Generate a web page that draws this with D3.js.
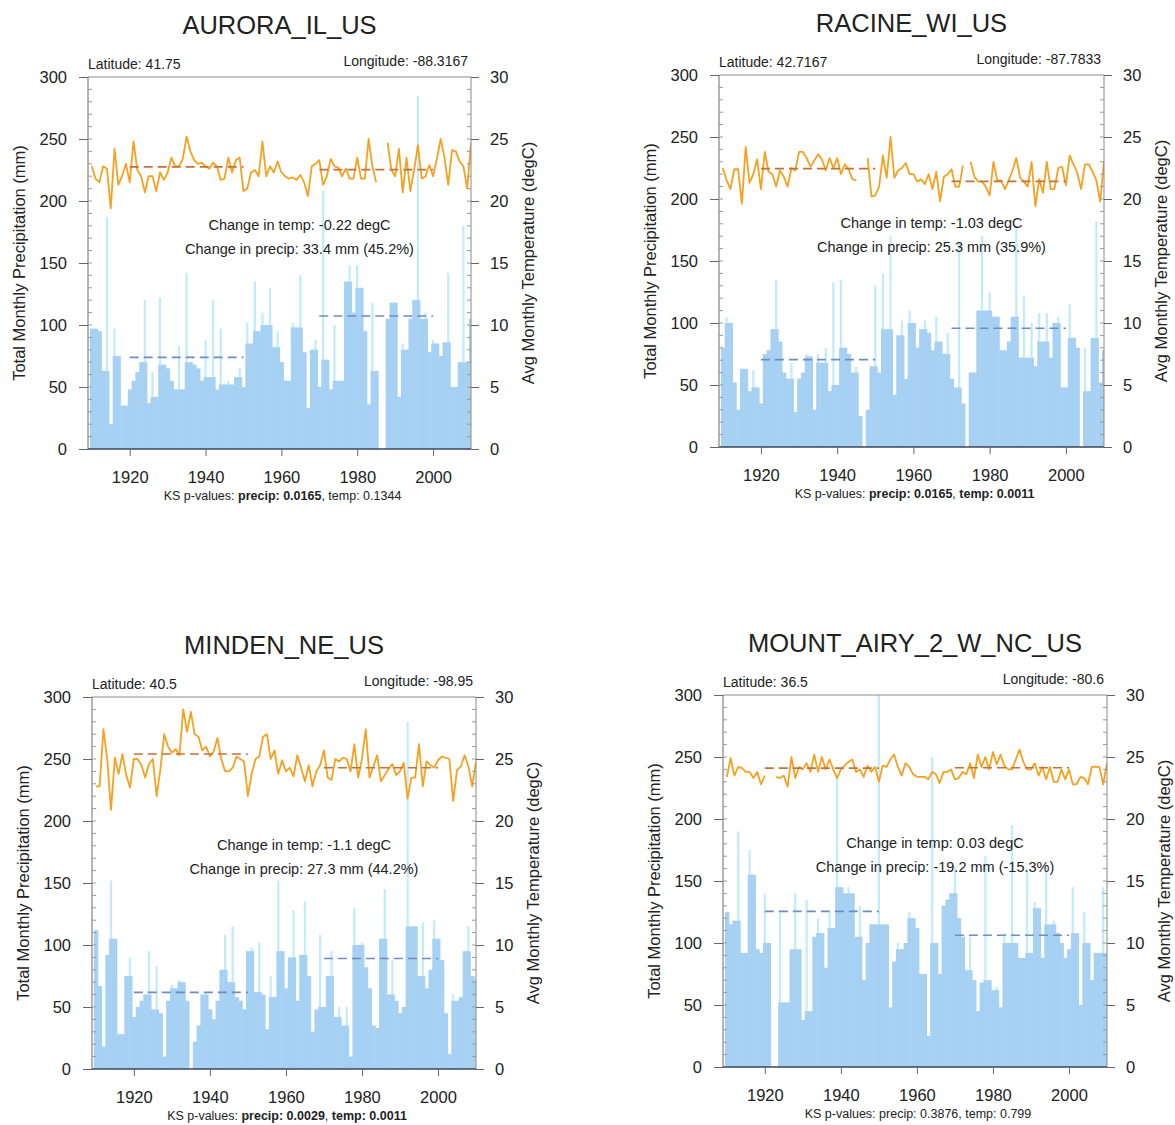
<!DOCTYPE html>
<html><head><meta charset="utf-8">
<script src="https://cdn.jsdelivr.net/npm/d3@7"></script>
<style>
body{margin:0;background:#fff}
text{font-family:"Liberation Sans",Arial,Helvetica,sans-serif}
</style>
</head><body>
<svg id="c" width="1175" height="1125"></svg>
<script>
// ---------------- DATA ----------------
const years = d3.range(1910, 2011);
const stations = ["AURORA_IL_US", "RACINE_WI_US", "MINDEN_NE_US", "MOUNT_AIRY_2_W_NC_US"];
const latitudes = ["41.75", "42.7167", "40.5", "36.5"];
const longitudes = ["-88.3167", "-87.7833", "-98.95", "-80.6"];
const precipTicks = [0, 50, 100, 150, 200, 250, 300];
const tempTicks = [0, 5, 10, 15, 20, 25, 30];
const yearTicks = [1920, 1940, 1960, 1980, 2000];
const periods = [[1920, 1950], [1970, 2000]];

const precipAurora = [97,97,95,63,187,20,97,75,35,35,
  48,55,62,70,120,37,62,42,122,68,
  65,55,48,83,48,142,70,68,65,55,
  88,58,120,48,97,52,55,52,58,65,
  50,102,85,135,95,110,100,130,82,95,
  70,55,55,102,98,140,78,33,80,88,
  50,208,72,48,100,55,55,135,148,110,
  148,130,95,36,118,63,0,0,105,118,
  118,42,85,80,105,120,285,105,110,78,
  88,85,75,86,142,50,50,70,180,70,
  105];
const tempAurora = [22.8,21.8,21.5,22.8,22.6,19.4,24.2,21.3,22.0,23.0,
  21.5,24.8,22.5,22.0,20.7,22.0,22.0,20.8,22.3,21.7,
  22.3,23.5,22.8,22.8,23.4,25.2,24.0,23.3,23.0,23.1,
  22.8,22.6,23.1,22.8,21.7,21.8,23.5,22.3,23.3,23.5,
  20.8,21.0,22.3,22.5,22.0,24.8,22.0,22.8,22.3,23.2,
  22.3,22.0,21.8,21.9,21.7,22.1,21.5,20.4,22.8,23.0,
  23.3,21.3,22.0,23.4,22.8,22.7,22.0,22.6,21.8,21.8,
  23.5,21.8,21.8,25.0,22.8,21.5,null,null,24.7,22.5,
  22.0,24.2,20.7,23.5,20.8,22.5,24.5,21.8,22.0,22.9,
  22.0,23.4,25.0,23.5,21.3,24.1,24.0,23.2,22.8,21.0,
  24.7];

const precipRacine = [80,105,100,52,30,63,63,45,62,48,
  35,75,78,95,135,85,60,55,68,28,
  55,60,75,73,30,75,68,80,45,133,
  50,135,80,75,60,65,25,0,30,65,
  130,60,140,95,170,42,90,102,55,110,
  100,80,95,102,92,78,105,85,75,92,
  55,48,165,35,0,60,60,110,170,110,
  125,105,105,78,78,85,105,178,72,122,
  72,100,65,108,85,108,72,100,105,48,
  48,115,88,80,0,80,45,88,182,52,
  78];
const tempRacine = [22.5,21.5,20.8,22.4,22.4,19.6,24.2,21.3,22.0,23.2,
  20.8,23.8,22.2,22.0,21.0,22.3,21.8,21.0,22.5,22.3,
  23.8,23.8,23.3,22.6,23.1,23.6,23.2,22.3,23.3,22.5,
  23.3,22.0,22.8,22.4,21.6,21.5,null,null,23.3,20.2,
  20.3,21.0,23.5,21.7,25.0,21.7,22.3,22.5,22.9,22.0,
  22.0,21.4,21.6,21.2,22.0,20.8,22.2,19.8,21.8,22.0,
  22.4,21.0,21.0,22.7,null,23.0,21.8,21.4,21.4,21.0,
  20.3,23.0,21.5,21.5,20.8,21.5,22.3,23.3,21.7,21.4,
  21.0,23.0,19.4,21.6,20.5,23.0,20.8,20.8,22.5,22.6,
  21.1,23.5,22.8,22.1,20.8,22.8,22.8,22.2,21.5,19.8,
  23.0];

const precipMinden = [112,67,18,92,152,105,28,28,75,90,
  42,50,55,60,95,48,83,45,10,55,
  68,65,72,70,55,0,22,35,60,62,
  48,40,55,80,108,70,115,58,55,48,
  95,98,62,102,60,32,75,58,152,95,
  65,90,128,55,92,135,75,30,48,108,
  50,75,95,42,50,35,50,10,130,100,
  102,82,65,35,33,105,145,60,88,55,
  45,50,280,115,115,75,118,65,80,120,
  105,88,45,12,60,55,58,95,115,75,
  72];
const tempMinden = [22.8,22.8,27.4,25.0,20.9,25.1,23.8,25.4,23.7,22.7,
  25.0,25.0,24.5,23.5,24.6,25.0,22.0,24.2,27.0,26.0,
  25.5,25.8,25.3,29.0,27.2,28.8,27.0,26.8,25.7,26.0,
  25.2,25.6,26.7,25.0,24.0,24.0,24.3,25.2,25.0,24.8,
  22.0,23.8,25.0,25.2,26.8,27.0,25.0,25.7,23.8,24.9,
  24.0,24.3,23.6,25.3,24.3,23.2,24.5,22.8,24.0,24.5,
  25.7,23.5,23.3,25.0,24.8,25.1,25.0,24.0,26.2,23.5,
  25.0,27.4,23.5,24.4,25.3,23.2,23.7,24.2,24.6,23.7,
  24.0,24.7,21.8,23.5,23.5,26.2,22.8,24.8,24.5,24.3,
  24.9,25.2,25.1,25.0,21.6,24.1,24.4,25.3,24.4,22.8,
  24.8];

const precipMountAiry = [125,115,118,190,92,92,175,155,95,92,
  140,100,0,0,125,52,52,95,140,95,
  38,135,45,105,120,108,80,125,112,235,
  145,140,145,140,105,130,70,100,115,115,
  300,115,115,48,85,100,95,100,125,120,
  112,75,75,25,250,100,75,130,135,140,
  160,120,105,78,105,70,45,68,170,70,
  62,65,48,108,100,195,100,88,88,160,
  92,133,128,88,160,115,118,108,100,88,
  95,145,108,50,125,100,70,92,92,145,
  92];
const tempMountAiry = [23.4,24.9,23.5,24.2,24.1,23.8,23.8,23.3,23.8,22.8,
  23.5,null,null,23.4,23.3,23.5,22.6,25.0,23.3,24.2,
  24.0,24.5,23.8,25.2,23.8,25.0,24.0,24.8,24.0,23.3,
  24.0,24.3,24.6,24.8,23.8,24.0,23.4,24.3,23.8,24.2,
  23.0,24.3,24.2,24.8,25.2,24.2,23.5,24.5,24.2,23.6,
  23.4,23.4,23.4,23.2,23.8,23.6,22.9,23.8,23.8,24.0,
  23.2,23.3,23.8,23.6,24.5,23.3,25.2,24.2,25.0,24.0,
  25.4,24.4,25.2,24.3,24.0,24.0,24.8,25.6,24.6,24.0,
  24.0,24.5,23.5,24.2,23.2,24.2,23.0,23.0,24.0,23.2,
  24.0,22.8,22.8,23.4,23.3,22.8,24.2,24.2,24.2,22.8,
  24.5];

const precipSeries = [precipAurora, precipRacine, precipMinden, precipMountAiry];
const tempSeries = [tempAurora, tempRacine, tempMinden, tempMountAiry];
const precipMeans = [[73.9, 107.3], [70.5, 95.8], [61.8, 89.1], [125.5, 106.3]];
const tempMeans = [[22.75, 22.53], [22.45, 21.42], [25.4, 24.3], [24.10, 24.13]];
const changeTempText = ["-0.22", "-1.03", "-1.1", "0.03"];
const changePrecipText = ["33.4 mm (45.2%)", "25.3 mm (35.9%)", "27.3 mm (44.2%)", "-19.2 mm (-15.3%)"];
const ksPrecip = ["0.0165", "0.0165", "0.0029", "0.3876"];
const ksTemp = ["0.1344", "0.0011", "0.0011", "0.799"];

// ---------------- DRAW ----------------
const svg = d3.select("#c");
const layout = [
  {left: 88, top: 77, w: 383, h: 372},
  {left: 719, top: 75, w: 385, h: 372},
  {left: 92, top: 697, w: 384, h: 372},
  {left: 723, top: 695, w: 384, h: 372}
];

stations.forEach((name, i) => {
  const L = layout[i];
  const P = precipSeries[i], T = tempSeries[i];
  const g = svg.append("g").attr("transform", `translate(${L.left},${L.top})`);
  const x = d3.scaleLinear().domain([1909, 2010]).range([0, L.w]);
  const yP = d3.scaleLinear().domain([0, 300]).range([L.h, 0]);
  const yT = d3.scaleLinear().domain([0, 30]).range([L.h, 0]);
  const bw = x(1910) - x(1909);

  g.append("clipPath").attr("id", "clip" + i).append("rect")
    .attr("x", 0).attr("y", 0).attr("width", L.w).attr("height", L.h);
  const plot = g.append("g").attr("clip-path", `url(#clip${i})`);

  // thin light spikes (full value)
  plot.append("g").selectAll("rect").data(years).join("rect")
    .attr("x", d => x(d) - bw * 0.3).attr("width", bw * 0.6)
    .attr("y", (d, k) => yP(P[k])).attr("height", (d, k) => yP(0) - yP(P[k]))
    .attr("fill", "#c3ecfa");
  // body of bars (capped at taller neighbour)
  const bodyVal = k => Math.min(P[k], Math.max(k > 0 ? P[k - 1] : P[k], k < P.length - 1 ? P[k + 1] : P[k]));
  plot.append("g").selectAll("rect").data(years).join("rect")
    .attr("x", d => x(d - 0.5)).attr("width", bw + 0.6)
    .attr("y", (d, k) => yP(bodyVal(k))).attr("height", (d, k) => yP(0) - yP(bodyVal(k)))
    .attr("fill", "#a7d1f2");

  // temperature line
  const line = d3.line().defined(d => d[1] != null).x(d => x(d[0])).y(d => yT(d[1]));
  plot.append("path").datum(years.map((yr, k) => [yr, T[k]]))
    .attr("d", line).attr("fill", "none").attr("stroke", "#f6a11f")
    .attr("stroke-width", 1.8).attr("stroke-linejoin", "round");

  // period means
  periods.forEach((p, j) => {
    plot.append("line").attr("x1", x(p[0])).attr("x2", x(p[1]))
      .attr("y1", yP(precipMeans[i][j])).attr("y2", yP(precipMeans[i][j]))
      .attr("stroke", "#6f8cc2").attr("stroke-width", 1.6).attr("stroke-dasharray", "9,5");
    plot.append("line").attr("x1", x(p[0])).attr("x2", x(p[1]))
      .attr("y1", yT(tempMeans[i][j])).attr("y2", yT(tempMeans[i][j]))
      .attr("stroke", "#c4703a").attr("stroke-width", 1.6).attr("stroke-dasharray", "9,5");
  });

  // frame lines
  g.append("line").attr("x1", 0).attr("x2", L.w).attr("y1", 0).attr("y2", 0).attr("stroke", "#8a8a8a");
  g.append("line").attr("x1", 0).attr("x2", 0).attr("y1", 0).attr("y2", L.h).attr("stroke", "#6a6a6a");
  g.append("line").attr("x1", L.w).attr("x2", L.w).attr("y1", 0).attr("y2", L.h).attr("stroke", "#8a8a8a");
  g.append("line").attr("x1", 0).attr("x2", L.w).attr("y1", L.h).attr("y2", L.h).attr("stroke", "#3a4658").attr("stroke-width", 1.5);

  // minor ticks (inside)
  g.append("g").selectAll("line").data(d3.range(10, 300, 10)).join("line")
    .attr("x1", 0).attr("x2", 4).attr("y1", d => yP(d)).attr("y2", d => yP(d)).attr("stroke", "#999");
  g.append("g").selectAll("line").data(d3.range(1, 30, 1)).join("line")
    .attr("x1", L.w - 4).attr("x2", L.w).attr("y1", d => yT(d)).attr("y2", d => yT(d)).attr("stroke", "#999");

  // axes
  const styleAxis = a => {
    a.select(".domain").remove();
    a.selectAll(".tick line").attr("stroke", "#666");
    a.selectAll(".tick text").attr("fill", "#222").style("font-size", "16.5px")
      .style("font-family", '"Liberation Sans",Arial,sans-serif');
  };
  g.append("g").call(d3.axisLeft(yP).tickValues(precipTicks).tickSize(9).tickPadding(12)).call(styleAxis);
  g.append("g").attr("transform", `translate(${L.w},0)`)
    .call(d3.axisRight(yT).tickValues(tempTicks).tickSize(8).tickPadding(11)).call(styleAxis);
  g.append("g").attr("transform", `translate(0,${L.h})`)
    .call(d3.axisBottom(x).tickValues(yearTicks).tickFormat(d3.format("d")).tickSize(7).tickPadding(15)).call(styleAxis);

  // axis titles
  g.append("text").attr("transform", `translate(-69,${L.h / 2}) rotate(-90)`)
    .attr("text-anchor", "middle").attr("dominant-baseline", "central")
    .style("font-size", "16.5px").attr("fill", "#222").text("Total Monthly Precipitation (mm)");
  g.append("text").attr("transform", `translate(${L.w + 57},${L.h / 2}) rotate(-90)`)
    .attr("text-anchor", "middle").attr("dominant-baseline", "central")
    .style("font-size", "16.5px").attr("fill", "#222").text("Avg Monthly Temperature (degC)");

  // title
  g.append("text").attr("x", L.w / 2).attr("y", -43)
    .attr("text-anchor", "middle").style("font-size", "25.5px").attr("fill", "#222").text(name);

  // lat / lon
  g.append("text").attr("x", 0).attr("y", -8).style("font-size", "14px").attr("fill", "#222")
    .text("Latitude: " + latitudes[i]);
  g.append("text").attr("x", L.w - 3).attr("y", -11).attr("text-anchor", "end")
    .style("font-size", "14px").attr("fill", "#222").text("Longitude: " + longitudes[i]);

  // change annotations
  g.append("text").attr("x", L.w / 2 + 20).attr("y", 153).attr("text-anchor", "middle")
    .style("font-size", "14.5px").attr("fill", "#222").text("Change in temp: " + changeTempText[i] + " degC");
  g.append("text").attr("x", L.w / 2 + 20).attr("y", 177).attr("text-anchor", "middle")
    .style("font-size", "14.5px").attr("fill", "#222").text("Change in precip: " + changePrecipText[i]);

  // KS p-values
  const ks = g.append("text").attr("x", L.w / 2 + 3).attr("y", L.h + 51).attr("text-anchor", "middle")
    .style("font-size", "12.5px").attr("fill", "#222");
  ks.append("tspan").text("KS p-values: ");
  ks.append("tspan").attr("font-weight", +ksPrecip[i] < 0.05 ? "bold" : "normal").text("precip: " + ksPrecip[i]);
  ks.append("tspan").text(", ");
  ks.append("tspan").attr("font-weight", +ksTemp[i] < 0.05 ? "bold" : "normal").text("temp: " + ksTemp[i]);
});
</script>
</body></html>
